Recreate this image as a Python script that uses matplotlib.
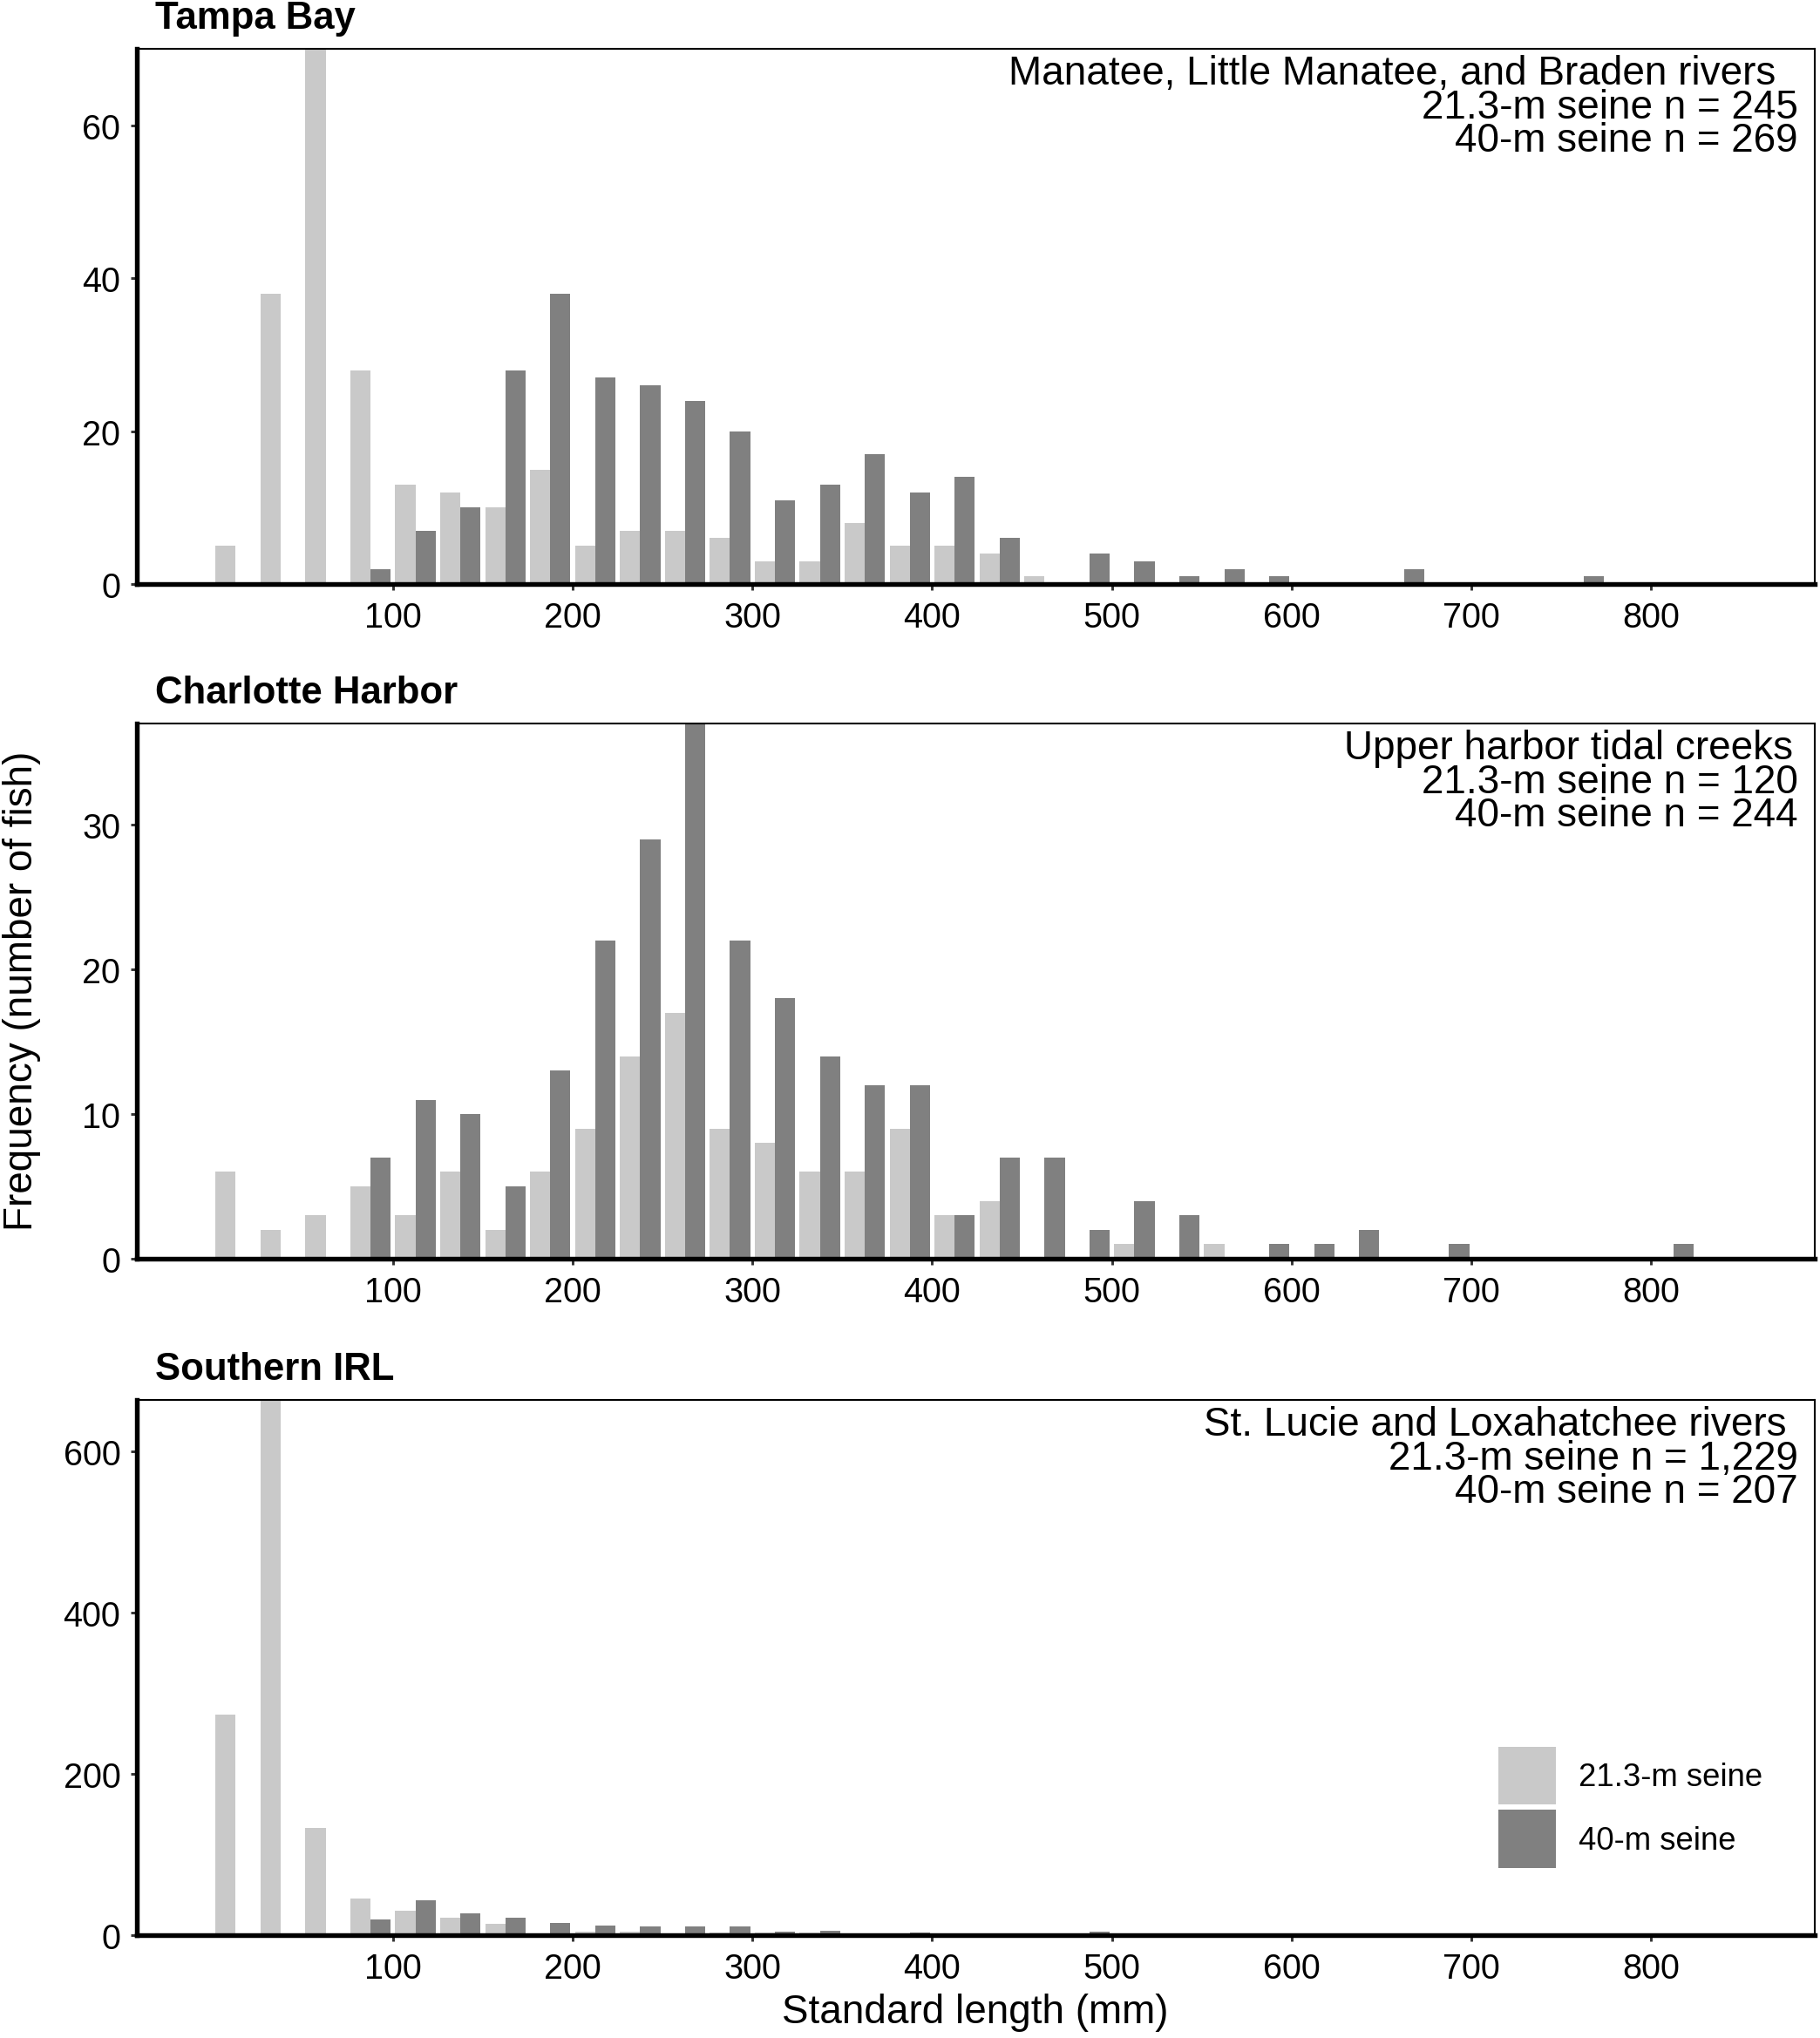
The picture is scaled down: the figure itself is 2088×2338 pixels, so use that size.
import numpy as np
import matplotlib
matplotlib.use("Agg")
import matplotlib.pyplot as plt

plt.rcParams['font.family'] = ['Liberation Sans', 'DejaVu Sans']

# 25-mm length bins, 0-850 mm
bin_width = 25
bin_starts = np.arange(0, 850, bin_width)

tampa_small = [5, 38, 70, 28, 13, 12, 10, 15, 5, 7, 7, 6, 3, 3, 8, 5, 5, 4, 1, 0,
               0, 0, 0, 0, 0, 0, 0, 0, 0, 0, 0, 0, 0, 0]
tampa_large = [0, 0, 0, 2, 7, 10, 28, 38, 27, 26, 24, 20, 11, 13, 17, 12, 14, 6, 0, 4,
               3, 1, 2, 1, 0, 0, 2, 0, 0, 0, 1, 0, 0, 0]

charlotte_small = [6, 2, 3, 5, 3, 6, 2, 6, 9, 14, 17, 9, 8, 6, 6, 9, 3, 4, 0, 0,
                   1, 0, 1, 0, 0, 0, 0, 0, 0, 0, 0, 0, 0, 0]
charlotte_large = [0, 0, 0, 7, 11, 10, 5, 13, 22, 29, 37, 22, 18, 14, 12, 12, 3, 7, 7, 2,
                   4, 3, 0, 1, 1, 2, 0, 1, 0, 0, 0, 0, 1, 0]

irl_small = [274, 685, 133, 46, 30, 22, 14, 2, 4, 4, 2, 3, 3, 3, 0, 0, 2, 0, 0, 2,
             0, 0, 0, 0, 0, 0, 0, 0, 0, 0, 0, 0, 0, 0]
irl_large = [0, 0, 0, 20, 43, 27, 22, 15, 12, 11, 11, 11, 4, 5, 0, 3, 2, 0, 2, 4,
             0, 0, 0, 0, 0, 0, 2, 0, 0, 0, 0, 0, 0, 0]

panels = [
    dict(title="Tampa Bay", small=tampa_small, large=tampa_large, ymax=70,
         yticks=[0, 20, 40, 60],
         lines=["Manatee, Little Manatee, and Braden rivers",
                "21.3-m seine n = 245", "40-m seine n = 269"],
         first_x=0.9767),
    dict(title="Charlotte Harbor", small=charlotte_small, large=charlotte_large, ymax=37,
         yticks=[0, 10, 20, 30],
         lines=["Upper harbor tidal creeks",
                "21.3-m seine n = 120", "40-m seine n = 244"],
         first_x=0.987),
    dict(title="Southern IRL", small=irl_small, large=irl_large, ymax=664,
         yticks=[0, 200, 400, 600],
         lines=["St. Lucie and Loxahatchee rivers",
                "21.3-m seine n = 1,229", "40-m seine n = 207"],
         first_x=0.983),
]

light = "#C9C9C9"
dark = "#808080"

fig = plt.figure(figsize=(13.92, 15.593), dpi=150)
bottoms = [0.7131, 0.3822, 0.0504]
height = 0.2625

centers = bin_starts + bin_width / 2
w = bin_width * 0.9 / 2

for p, b in zip(panels, bottoms):
    ax = fig.add_axes([0.0752, b, 0.9219, height])
    ax.bar(centers - w / 2, p["small"], width=w, color=light, label="21.3-m seine", zorder=1)
    ax.bar(centers + w / 2, p["large"], width=w, color=dark, label="40-m seine", zorder=1)
    ax.set_xlim(-42.5, 891)
    ax.set_ylim(0, p["ymax"])
    ax.set_xticks(range(100, 900, 100))
    ax.set_yticks(p["yticks"])
    ax.tick_params(direction="out", length=3.5, width=1.4, color="#333333",
                   labelsize=19, labelcolor="black", pad=5.5)
    for s in ["left", "bottom"]:
        ax.spines[s].set_linewidth(2.6)
    for s in ["top", "right"]:
        ax.spines[s].set_linewidth(1.0)
    ax.text(0.011, 1.039, p["title"], transform=ax.transAxes, fontsize=21,
            fontweight="bold", ha="left", va="baseline")
    ys = [0.935, 0.872, 0.809]
    xs = [p["first_x"], 0.990, 0.990]
    for line, x, y in zip(p["lines"], xs, ys):
        ax.text(x, y, line, transform=ax.transAxes, fontsize=22,
                ha="right", va="baseline")

leg = ax.legend(loc="upper left", bbox_to_anchor=(0.8114, 0.3528), frameon=False,
                fontsize=17.5, handlelength=1.8, handleheight=2.42, labelspacing=0.18,
                handletextpad=0.72, borderpad=0, borderaxespad=0)

fig.text(0.012, 0.514, "Frequency (number of fish)", rotation=90, fontsize=22,
         ha="center", va="center")
fig.text(0.536, 0.0128, "Standard length (mm)", fontsize=22, ha="center", va="center")

fig.savefig("out.png", dpi=150)
